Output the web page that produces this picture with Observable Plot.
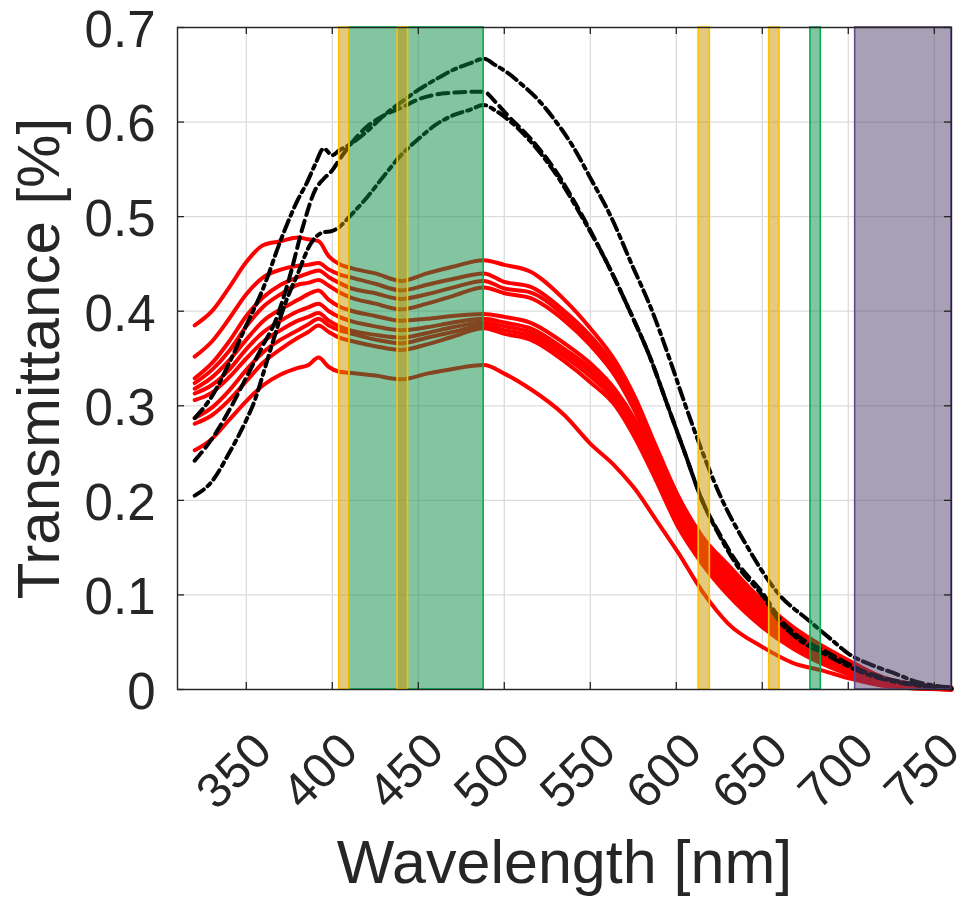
<!DOCTYPE html>
<html>
<head>
<meta charset="utf-8">
<script src="https://cdn.jsdelivr.net/npm/d3@7"></script>
<script src="https://cdn.jsdelivr.net/npm/@observablehq/plot@0.6"></script>
<style>
  body { margin: 0; background: #ffffff; }
</style>
</head>
<body>
<div id="chart"></div>
<script>
// ---------- Data ----------
const xTicks = [350, 400, 450, 500, 550, 600, 650, 700, 750];
const xTickLabels = ["350", "400", "450", "500", "550", "600", "650", "700", "750"];
const yTicks = [0, 0.1, 0.2, 0.3, 0.4, 0.5, 0.6, 0.7];
const yTickLabels = ["0", "0.1", "0.2", "0.3", "0.4", "0.5", "0.6", "0.7"];

// wavelengths shared by the red (solid) spectra
const wlRed = [320, 330, 340, 350, 360, 370, 380, 386, 392, 398, 404, 410, 425, 440, 455, 470, 488, 500, 515, 535, 550, 565, 576, 588, 601, 615, 630, 650, 668, 685, 700, 720, 740, 760];

const red1  = [.385, .400, .425, .452, .470, .474, .478, .476, .474, .458, .450, .446, .440, .432, .440, .447, .454, .449, .442, .412, .382, .346, .309, .258, .205, .162, .132, .094, .066, .046, .031, .013, .005, .002];
const red2  = [.352, .368, .392, .418, .436, .444, .448, .449, .451, .444, .439, .436, .429, .422, .428, .434, .440, .431, .426, .400, .374, .340, .303, .254, .200, .158, .127, .090, .063, .044, .029, .012, .004, .001];
const red3  = [.329, .345, .368, .395, .415, .428, .436, .440, .443, .436, .430, .425, .419, .413, .418, .425, .432, .424, .420, .395, .369, .335, .298, .249, .196, .155, .123, .086, .060, .040, .026, .010, .003, .001];
const red4  = [.324, .338, .358, .384, .405, .418, .428, .430, .433, .427, .420, .415, .408, .402, .408, .416, .425, .419, .414, .390, .364, .330, .294, .245, .192, .151, .119, .083, .057, .038, .024, .009, .003, .001];
const red5  = [.318, .330, .348, .370, .390, .402, .412, .418, .422, .412, .405, .401, .395, .390, .392, .395, .397, .394, .388, .366, .345, .316, .285, .239, .188, .148, .115, .079, .054, .035, .022, .008, .002, .001];
const red6  = [.313, .322, .338, .360, .378, .390, .400, .404, .408, .400, .394, .390, .384, .380, .383, .388, .392, .388, .382, .360, .340, .312, .281, .235, .185, .145, .112, .076, .051, .033, .021, .007, .002, .000];
const red7  = [.306, .314, .330, .350, .368, .380, .390, .394, .398, .390, .384, .380, .375, .372, .377, .383, .388, .384, .378, .356, .336, .308, .277, .231, .181, .141, .108, .073, .049, .031, .019, .006, .002, .000];
const red8  = [.287, .298, .316, .338, .357, .370, .380, .386, .392, .385, .380, .377, .370, .366, .372, .378, .385, .380, .374, .352, .331, .304, .272, .227, .177, .137, .104, .070, .046, .029, .018, .006, .002, .000];
const red9  = [.281, .290, .306, .326, .346, .360, .372, .378, .385, .378, .372, .369, .363, .359, .365, .373, .382, .376, .370, .347, .325, .299, .266, .222, .172, .133, .100, .066, .043, .027, .016, .005, .001, .000];
const red10 = [.253, .265, .285, .305, .322, .333, .340, .343, .351, .341, .336, .335, .332, .328, .334, .339, .343, .334, .318, .290, .260, .235, .212, .180, .145, .104, .070, .045, .028, .020, .012, .004, .001, .000];
const redSeries = [red1, red2, red3, red4, red5, red6, red7, red8, red9, red10];

// black (dashed / dash-dot) spectra
const wlBlack1 = [320, 330, 340, 350, 360, 370, 380, 385, 390, 395, 400, 404, 410, 420, 430, 440, 450, 460, 470, 480, 488, 495, 502, 510, 520, 529, 540, 550, 562, 574, 586, 596, 605, 615, 626, 640, 660, 677, 690, 700, 715, 727, 740, 750, 760];
const black1   = [.287, .310, .345, .385, .425, .475, .518, .535, .555, .572, .565, .570, .576, .590, .607, .621, .634, .645, .655, .662, .667, .660, .652, .640, .623, .603, .574, .541, .500, .450, .400, .350, .302, .252, .203, .155, .100, .073, .053, .038, .025, .017, .008, .004, .002];

const wlBlack2 = [320, 330, 340, 350, 360, 367, 375, 383, 390, 395, 400, 404, 410, 420, 430, 441, 450, 460, 470, 480, 488, 495, 502, 515, 530, 545, 560, 573, 585, 595, 605, 615, 625, 635, 651, 660, 669, 689, 708, 737, 760];
const black2   = [.242, .265, .295, .330, .365, .390, .435, .490, .528, .540, .549, .560, .575, .595, .607, .616, .624, .629, .631, .632, .632, .621, .607, .583, .548, .502, .450, .400, .350, .300, .250, .200, .165, .135, .100, .075, .059, .038, .020, .006, .002];

const wlBlack3 = [320, 330, 340, 350, 355, 360, 365, 373, 380, 387, 394, 400, 404, 410, 420, 430, 441, 450, 460, 470, 480, 488, 495, 502, 515, 530, 545, 560, 573, 585, 595, 605, 615, 625, 635, 651, 660, 669, 689, 708, 737, 760];
const black3   = [.205, .220, .250, .285, .306, .335, .365, .410, .440, .470, .483, .485, .489, .500, .520, .543, .567, .582, .597, .607, .613, .618, .612, .603, .580, .545, .500, .450, .400, .350, .300, .250, .200, .163, .132, .097, .072, .056, .035, .018, .005, .001];

// highlighted wavelength bands
const bandStart = [410, 404, 438, 613, 654, 678, 704];
const bandEnd   = [488, 410, 444, 619.5, 660, 684, 760];
const bandFill  = ["#058b41", "#c79500", "#c79500", "#c79500", "#c79500", "#058b41", "#514169"];
const bandEdge  = ["#00b050", "#ffc000", "#ffc000", "#ffc000", "#ffc000", "#00b050", "#5e4b8b"];

// ---------- Build tables for the library ----------
const redData = redSeries.flatMap((s, k) => s.map((t, i) => ({wl: wlRed[i], t, id: k})));
const toRows = (wl, v) => v.map((t, i) => ({wl: wl[i], t}));
const bands = bandStart.map((s, i) => ({x1: s, x2: bandEnd[i], fill: bandFill[i], edge: bandEdge[i]}));

const ink = "#262626";
const font = "'Liberation Sans', Arial, Helvetica, sans-serif";

const chart = Plot.plot({
  width: 971,
  height: 897,
  marginLeft: 177,
  marginRight: 20,
  marginTop: 27,
  marginBottom: 208,
  x: {domain: [310, 760], axis: null},
  y: {domain: [0, 0.7], axis: null},
  color: {type: "identity"},
  style: {fontFamily: font, background: "#ffffff", color: ink},
  marks: [
    Plot.gridX(xTicks, {stroke: "#dcdcdc", strokeOpacity: 1, strokeWidth: 1.3}),
    Plot.gridY(yTicks, {stroke: "#dcdcdc", strokeOpacity: 1, strokeWidth: 1.3}),
    Plot.line(redData, {x: "wl", y: "t", z: "id", stroke: "#ff0000", strokeWidth: 4, curve: "monotone-x"}),
    Plot.line(toRows(wlBlack3, black3), {x: "wl", y: "t", stroke: "#000000", strokeWidth: 4, strokeDasharray: "11,5,4,5", curve: "monotone-x"}),
    Plot.line(toRows(wlBlack2, black2), {x: "wl", y: "t", stroke: "#000000", strokeWidth: 4, strokeDasharray: "11,6", curve: "monotone-x"}),
    Plot.line(toRows(wlBlack1, black1), {x: "wl", y: "t", stroke: "#000000", strokeWidth: 4, strokeDasharray: "12,5,4,5", curve: "monotone-x"}),
    Plot.rect(bands, {x1: "x1", x2: "x2", y1: 0, y2: 0.7, fill: "fill", fillOpacity: 0.5, stroke: "edge", strokeWidth: 1.6}),
    // inward tick marks
    Plot.ruleX(xTicks, {x: d => d, y1: 0, y2: 0.0075, stroke: ink, strokeWidth: 1.3}),
    Plot.ruleX(xTicks, {x: d => d, y1: 0.7, y2: 0.6925, stroke: ink, strokeWidth: 1.3}),
    Plot.ruleY(yTicks, {y: d => d, x1: 310, x2: 314.1, stroke: ink, strokeWidth: 1.3}),
    Plot.ruleY(yTicks, {y: d => d, x1: 760, x2: 755.9, stroke: ink, strokeWidth: 1.3}),
    Plot.frame({stroke: ink, strokeWidth: 1.4}),
    // tick labels
    Plot.text(xTicks, {x: d => d, frameAnchor: "bottom", text: (d, i) => xTickLabels[i], rotate: -45, textAnchor: "end", lineAnchor: "middle", dx: 17, dy: 53, fontSize: 49, fill: ink}),
    Plot.text(yTicks, {y: d => d, frameAnchor: "left", text: (d, i) => yTickLabels[i], textAnchor: "end", lineAnchor: "middle", dx: -22, dy: 3, fontSize: 51, fill: ink}),
    // axis titles
    Plot.text(["Wavelength [nm]"], {text: d => d, frameAnchor: "bottom", textAnchor: "middle", lineAnchor: "middle", dy: 174, fontSize: 61, fill: ink}),
    Plot.text(["Transmittance [%]"], {text: d => d, frameAnchor: "left", textAnchor: "middle", lineAnchor: "middle", rotate: -90, dx: -138, fontSize: 60, fill: ink})
  ]
});
document.getElementById("chart").appendChild(chart);
</script>
</body>
</html>
